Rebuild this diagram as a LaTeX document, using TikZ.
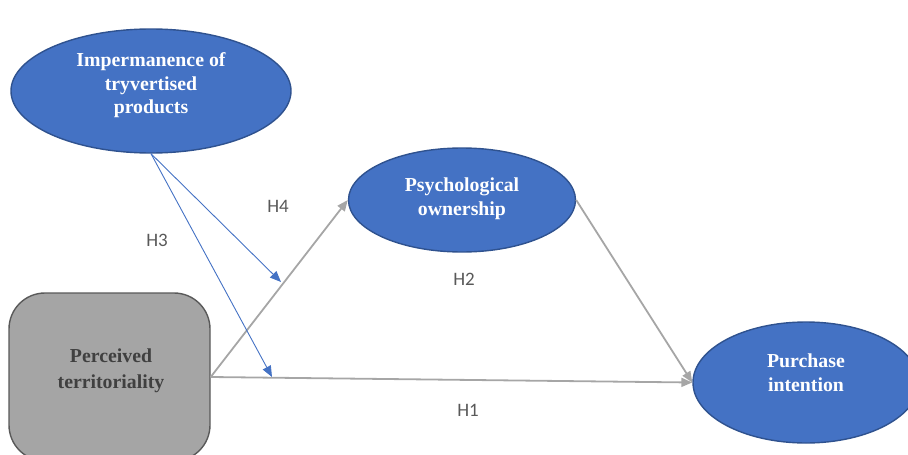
\documentclass[tikz,border=0pt]{standalone}
\usepackage{fontspec}
\setmainfont{Liberation Serif}
\newfontfamily\hfont{Carlito}
\usetikzlibrary{shapes.geometric,arrows.meta}
\definecolor{ovalblue}{HTML}{4472C4}
\definecolor{ovaledge}{HTML}{2F528F}
\definecolor{linegray}{HTML}{A6A6A6}
\definecolor{boxgray}{HTML}{A5A5A5}
\definecolor{boxedge}{HTML}{595959}
\definecolor{boxtext}{HTML}{404040}
\definecolor{labelgray}{HTML}{595959}
\begin{document}
\begin{tikzpicture}[x=1pt,y=-1pt,
  oval/.style={ellipse,draw=ovaledge,fill=ovalblue,line width=1.4pt,inner sep=0pt},
  ovaltext/.style={text=white,font=\fontsize{19.8}{23.5}\selectfont\bfseries,align=center},
  construct/.style={rectangle,rounded corners=36pt,draw=boxedge,fill=boxgray,line width=1.4pt,inner sep=0pt},
  boxlabel/.style={text=boxtext,font=\fontsize{19.8}{26}\selectfont\bfseries,align=center},
  path/.style={draw=linegray,line width=1.8pt,-{Triangle[length=11pt,width=9pt]}},
  moderation/.style={draw=ovalblue,line width=0.9pt,-{Triangle[length=11pt,width=9pt]}},
  hyp/.style={text=labelgray,font=\hfont\fontsize{19}{22}\selectfont}
]
\useasboundingbox (0,0) rectangle (908,455);
\clip (0,0) rectangle (908,455);

% constructs
\node[oval,minimum width=280pt,minimum height=124pt] (imp) at (151,91) {};
\node[ovaltext] (impt) at (151,85.5) {Impermanence of\\tryvertised\\products};

\node[oval,minimum width=227pt,minimum height=104pt] (own) at (462,200) {};
\node[ovaltext] (ownt) at (462,198.5) {Psychological\\ownership};

\node[oval,minimum width=226pt,minimum height=121pt] (pur) at (806,382.5) {};
\node[ovaltext] (purt) at (806,372.5) {Purchase\\intention};

\node[construct,minimum width=201pt,minimum height=168pt] (terr) at (109.5,377) {};
\node[boxlabel] (terrt) at (111,370.5) {Perceived\\territoriality};

% structural paths
\draw[path] (terr.east) -- (own.west);
\draw[path] (terr.east) -- (pur.west);
\draw[path] (own.east) -- (pur.west);

% moderating effects
\coordinate (modown) at (281,282);
\coordinate (modpur) at (272,377);
\draw[moderation] (imp.south) -- (modown);
\draw[moderation] (imp.south) -- (modpur);

% hypothesis labels
\node[hyp] (h1) at (468,410) {H1};
\node[hyp] (h2) at (464,279) {H2};
\node[hyp] (h3) at (157,240) {H3};
\node[hyp] (h4) at (278,206) {H4};
\end{tikzpicture}
\end{document}
